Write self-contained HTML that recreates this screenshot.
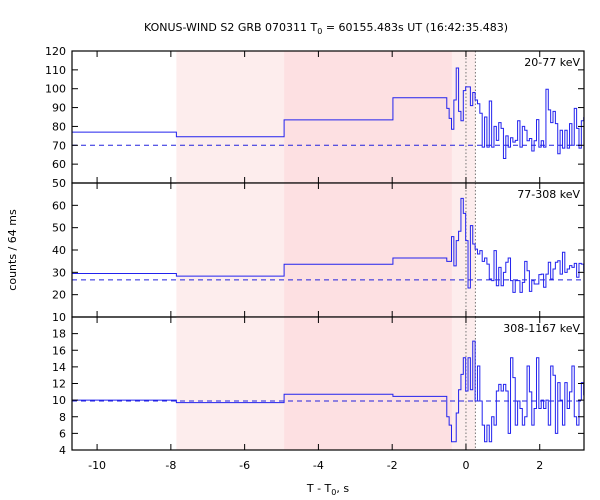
<!DOCTYPE html>
<html><head><meta charset="utf-8"><style>
body{margin:0;background:#fff}
svg{display:block;font-family:"DejaVu Sans","Liberation Sans",sans-serif}
</style></head><body>
<svg id="chart" width="600" height="500" viewBox="0 0 600 500" xmlns="http://www.w3.org/2000/svg">
<text x="326" y="31" font-size="11" text-anchor="middle">KONUS-WIND S2 GRB 070311 T<tspan font-size="8" dy="3">0</tspan><tspan dy="-3"> = 60155.483s UT (16:42:35.483)</tspan></text>
<text x="0" y="0" font-size="11" text-anchor="middle" transform="translate(16,250) rotate(-90)">counts / 64 ms</text>
<text x="328" y="492" font-size="11" text-anchor="middle">T - T<tspan font-size="8" dy="3">0</tspan><tspan dy="-3">, s</tspan></text>
</svg>
<script>
const wideEdges=[-10.68,-7.85,-4.93,-1.98,-0.52];
const wideTop=[77,74.5,83.5,95.2];
const wideMid=[29.5,28.3,33.6,36.4];
const wideBot=[10,9.7,10.7,10.45];
const fineStart=-0.52, fineBin=0.064;
const fineTop=[89.6,84.3,78.5,94,111,88,83,99,101,101,91,98,94,92,87,69,85,69,93.5,69,80,72.6,82,79,63,75,69,74,71.7,72.6,83,69,80,78,72.4,73.6,67,72.4,83.6,69,72.4,69,99.7,88.8,82,88,81.5,65.5,78,68.5,78,68.5,81.5,70,89.6,79,68.5,83,84.7];
const fineMid=[34.9,34.9,46,32.9,44.2,48.4,63.1,56.4,44.2,23,50.9,42.7,40.4,38.2,39.7,34.9,36.4,33.7,27,26.3,39.7,24,32.2,24,30,34.5,36.4,26.3,21,26.3,26.3,21,25.5,34.9,30.7,21.5,26.3,24.8,24.8,29,29.2,23.3,29.2,34.5,27,31.5,34.5,35.2,29.2,39,30,31.5,33,32.2,34,27.8,34,33.7,30.7];
const fineBot=[8,7,5,5,8.45,11.25,13.1,15.1,11.1,15.1,11.25,17.1,9.9,14.1,9.9,7,5,7,5,8,7,11.1,11.9,11.1,11.9,11.1,6,15.1,12.7,7,9.9,9,7,8,14.1,11,7,9,15.1,9,10,9,10,7,14.1,13,6,12.1,10,7,12.1,9,11,14.1,8,7,10,12.1,10.65];
const bkgVals=[70,26.6,9.9];
const bandNames=["20-77 keV","77-308 keV","308-1167 keV"];
const yRanges=[[50,120],[10,70],[4,20]];
const yTickSteps=[10,10,2];
const xTicks=[-10,-8,-6,-4,-2,0,2];
const lightBands=[[-7.85,-4.93],[-0.38,0.26]];
const darkBand=[-4.93,-0.38];
const dottedLines=[0,0.256];

const svg=document.getElementById('chart');
const NS='http://www.w3.org/2000/svg';
const L=72,R=584,xmin=-10.68,xmax=3.2;
const panelTops=[51,183,317],panelBots=[183,317,450];
const X=v=>L+(v-xmin)/(xmax-xmin)*(R-L);
function mk(tag,attrs,parent){const e=document.createElementNS(NS,tag);for(const k in attrs)e.setAttribute(k,attrs[k]);(parent||svg).appendChild(e);return e;}
const fines=[fineTop,fineMid,fineBot],wides=[wideTop,wideMid,wideBot];
const clip=mk('clipPath',{id:'pc'});mk('rect',{x:L,y:51,width:R-L,height:399},clip);

for(let p=0;p<3;p++){
  const t=panelTops[p],b=panelBots[p],[y0,y1]=yRanges[p];
  const Y=v=>b-(v-y0)/(y1-y0)*(b-t);
  const g=mk('g',{});
  
  
  lightBands.forEach(bd=>{const r=mk('rect',{x:X(bd[0]),y:t,width:X(bd[1])-X(bd[0]),height:b-t,fill:'#fdeded'},g);
    });
  const dr=mk('rect',{x:X(darkBand[0]),y:t,width:X(darkBand[1])-X(darkBand[0]),height:b-t,fill:'#fde0e2'},g);
  
  dottedLines.forEach(v=>{const l=mk('line',{x1:X(v),x2:X(v),y1:t,y2:b,stroke:'#777','stroke-dasharray':'1.5,2','stroke-width':1},g);
    });
  const bl=mk('line',{x1:L,x2:R,y1:Y(bkgVals[p]),y2:Y(bkgVals[p]),stroke:'#2222dd','stroke-dasharray':'5,4','stroke-width':1},g);
  
  let d='';const w=wides[p];
  for(let i=0;i<w.length;i++){d+=(i==0?'M':'L')+X(wideEdges[i])+','+Y(w[i])+'L'+X(wideEdges[i+1])+','+Y(w[i]);}
  const f=fines[p];
  for(let i=0;i<f.length;i++){const a=fineStart+i*fineBin;d+='L'+X(a)+','+Y(f[i])+'L'+X(a+fineBin)+','+Y(f[i]);}
  const pa=mk('path',{d:d,fill:'none',stroke:'#2222ee','stroke-width':1,'clip-path':'url(#pc)'},g);
  
  const fr=mk('rect',{x:L,y:t,width:R-L,height:b-t,fill:'none',stroke:'#000','stroke-width':1.2},g);
  
  xTicks.forEach(v=>{mk('line',{x1:X(v),x2:X(v),y1:t,y2:t+6,stroke:'#000'},g);mk('line',{x1:X(v),x2:X(v),y1:b,y2:b-6,stroke:'#000'},g);});
  for(let v=y0;v<=y1+1e-9;v+=yTickSteps[p]){
    mk('line',{x1:L,x2:L+6,y1:Y(v),y2:Y(v),stroke:'#000'},g);
    mk('line',{x1:R,x2:R-6,y1:Y(v),y2:Y(v),stroke:'#000'},g);
    if(p>0&&v==y1)continue;
    const tx=mk('text',{x:L-6,y:Y(v)+4,'font-size':11,'text-anchor':'end'},g);tx.textContent=v;
    
  }
  const lb=mk('text',{x:R-4,y:t+15,'font-size':11,'text-anchor':'end'},g);lb.textContent=bandNames[p];
  
}
xTicks.forEach(v=>{const tx=mk('text',{x:X(v),y:469,'font-size':11,'text-anchor':'middle'});tx.textContent=v;
  });
</script>
</body></html>
